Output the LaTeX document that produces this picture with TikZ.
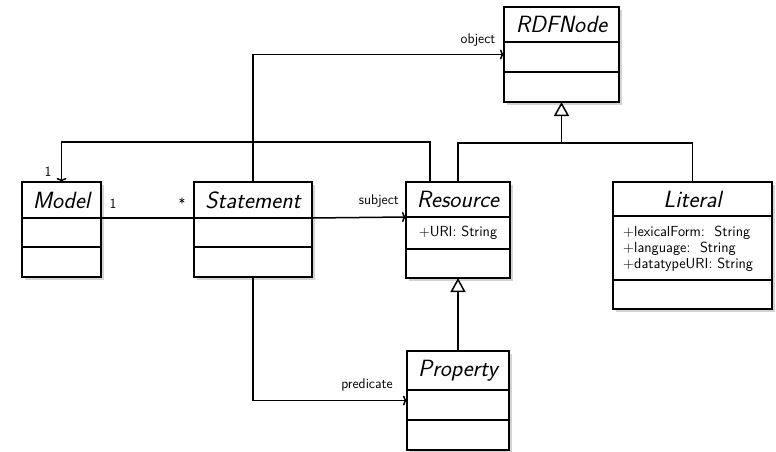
\documentclass[tikz,border=0pt]{standalone}
\usetikzlibrary{shadows,arrows.meta}
\begin{document}
\begin{tikzpicture}[x=1pt,y=-1pt, font=\sffamily,
  box/.style={draw, line width=1.6pt, fill=white, anchor=north west, inner sep=0pt, outer sep=0pt,
    drop shadow={shadow xshift=2.5pt, shadow yshift=-3pt, opacity=0.35}},
  hdr/.style={anchor=north west, inner sep=0pt, outer sep=0pt, font=\sffamily\itshape\fontsize{23.5}{26}\selectfont},
  sec/.style={anchor=north west, inner sep=0pt, outer sep=0pt},
  divider/.style={line width=1.6pt},
  attr/.style={font=\sffamily\fontsize{14.6}{15.8}\selectfont, inner sep=0pt, align=left},
  lbl/.style={font=\sffamily\fontsize{14}{16}\selectfont, inner sep=0pt},
  conn/.style={line width=1.5pt},
  gen/.style={conn, -{Triangle[open, length=14pt, width=15pt, fill=white]}},
  nav/.style={conn, -{To[length=4pt, width=10pt]}}]
\useasboundingbox (0,0) rectangle (776,452);

% ---------- Model
\node[box, minimum width=79pt, minimum height=95pt] (model) at (22,182) {};
\node[hdr, minimum width=79pt, minimum height=36pt] (modelH) at (22,182) {Model};
\node[sec, minimum width=79pt, minimum height=29pt] (modelA) at (modelH.south west) {};
\draw[divider] (modelH.south west) -- (modelH.south east);
\draw[divider] (modelA.south west) -- (modelA.south east);

% ---------- Statement
\node[box, minimum width=118pt, minimum height=95pt] (statement) at (194,182) {};
\node[hdr, minimum width=118pt, minimum height=36pt] (statementH) at (194,182) {Statement};
\node[sec, minimum width=118pt, minimum height=29pt] (statementA) at (statementH.south west) {};
\draw[divider] (statementH.south west) -- (statementH.south east);
\draw[divider] (statementA.south west) -- (statementA.south east);

% ---------- Resource
\node[box, minimum width=104pt, minimum height=96pt] (resource) at (406,182) {};
\node[hdr, minimum width=104pt, minimum height=35pt] (resourceH) at (406,182) {Resource};
\node[sec, minimum width=104pt, minimum height=32pt] (resourceA) at (resourceH.south west) {};
\draw[divider] (resourceH.south west) -- (resourceH.south east);
\draw[divider] (resourceA.south west) -- (resourceA.south east);
\node[attr] (resourceT) at (resourceA.center) {$+$URI: String};

% ---------- Literal
\node[box, minimum width=159pt, minimum height=127pt] (literal) at (613,182) {};
\node[hdr, minimum width=159pt, minimum height=34pt] (literalH) at (613,182) {Literal};
\node[sec, minimum width=159pt, minimum height=64pt] (literalA) at (literalH.south west) {};
\draw[divider] (literalH.south west) -- (literalH.south east);
\draw[divider] (literalA.south west) -- (literalA.south east);
\node[attr, anchor=west] (literalT) at ([xshift=10pt,yshift=-0.5pt]literalA.west)
  {$+$lexicalForm:\ \ String\\$+$language:\ \ String\\$+$datatypeURI:\ String};

% ---------- RDFNode
\node[box, minimum width=115pt, minimum height=95pt] (rdf) at (504,7) {};
\node[hdr, minimum width=115pt, minimum height=35pt] (rdfH) at (504,7) {RDFNode};
\node[sec, minimum width=115pt, minimum height=30pt] (rdfA) at (rdfH.south west) {};
\draw[divider] (rdfH.south west) -- (rdfH.south east);
\draw[divider] (rdfA.south west) -- (rdfA.south east);

% ---------- Property
\node[box, minimum width=102pt, minimum height=99pt] (property) at (407,351) {};
\node[hdr, minimum width=102pt, minimum height=39pt] (propertyH) at (407,351) {Property};
\node[sec, minimum width=102pt, minimum height=30pt] (propertyA) at (propertyH.south west) {};
\draw[divider] (propertyH.south west) -- (propertyH.south east);
\draw[divider] (propertyA.south west) -- (propertyA.south east);

% ---------- connectors
\draw[conn] (modelH.south east) -- (statementH.south west);
\node[lbl] (m1) at (113,204) {1};
\node[lbl] (mstar) at (182,203) {*};

\draw[nav] (statementH.south east) -- (resourceH.south west);
\node[lbl, anchor=east] (subj) at (399,201) {subject};

\draw[nav] (statement.north) |- (rdf.west);
\node[lbl] (obj) at (478,40) {object};

\draw[nav] (statement.south) |- (property.west);
\node[lbl] (pred) at (367,385) {predicate};

\coordinate (mlink) at ([xshift=-28pt]resource.north);
\draw[nav] (mlink) -- ++(0,-40) -| (model.north);
\node[lbl] (m2) at (48,172) {1};

\coordinate (genpt) at (rdf.south |- 0,143);
\draw[conn] (resource.north) |- (literal.north |- genpt) -- (literal.north);
\draw[gen] (genpt) -- (rdf.south);
\draw[gen] (property.north) -- (resource.south);
\end{tikzpicture}
\end{document}
